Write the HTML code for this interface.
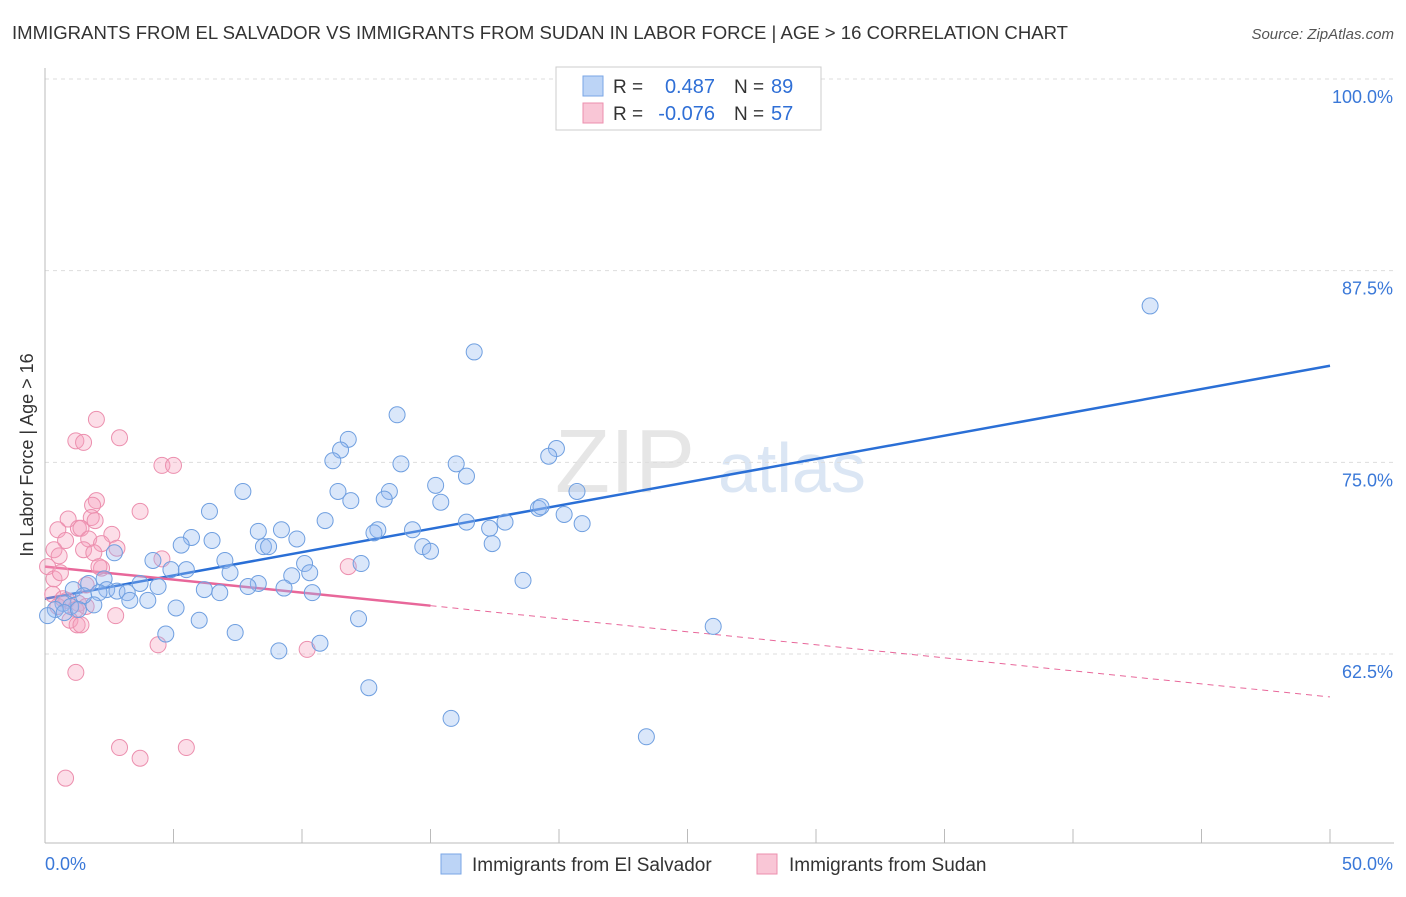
<!DOCTYPE html>
<html><head><meta charset="utf-8">
<style>
body{margin:0;background:#fff;font-family:"Liberation Sans",sans-serif;}
svg text{font-family:"Liberation Sans",sans-serif;}
</style></head>
<body>
<svg id="chart" width="1406" height="892" xmlns="http://www.w3.org/2000/svg">
<text x="12" y="39" font-size="18" fill="#333" textLength="1056" lengthAdjust="spacingAndGlyphs">IMMIGRANTS FROM EL SALVADOR VS IMMIGRANTS FROM SUDAN IN LABOR FORCE | AGE &gt; 16 CORRELATION CHART</text>
<text x="1394" y="39" font-size="15" fill="#555" text-anchor="end" font-style="italic">Source: ZipAtlas.com</text>
<text x="555" y="492" font-size="90" fill="#e6e6e6" font-family="Liberation Serif">ZIP</text>
<text x="718" y="492" font-size="70" fill="#dbe6f4">atlas</text>
<g id="grid"></g>
<g id="axes"></g>
<g id="lines"></g>
<g id="pts"></g>
<text transform="translate(33,455) rotate(-90)" font-size="18" fill="#333" text-anchor="middle">In Labor Force | Age &gt; 16</text>
<g>
<rect x="556" y="67" width="265" height="63" fill="#fff" stroke="#ccc"/>
<rect x="583" y="76" width="20" height="20" fill="#bcd4f6" stroke="#7aa6e6"/>
<rect x="583" y="103" width="20" height="20" fill="#f9c6d6" stroke="#ec8fae"/>
<text x="613" y="93" font-size="19" fill="#333">R =</text>
<text x="715" y="93" font-size="20" fill="#2f6fd6" text-anchor="end">0.487</text>
<text x="734" y="93" font-size="19" fill="#333">N =</text>
<text x="771" y="93" font-size="20" fill="#2f6fd6">89</text>
<text x="613" y="120" font-size="19" fill="#333">R =</text>
<text x="715" y="120" font-size="20" fill="#2f6fd6" text-anchor="end">-0.076</text>
<text x="734" y="120" font-size="19" fill="#333">N =</text>
<text x="771" y="120" font-size="20" fill="#2f6fd6">57</text>
</g>
<g>
<rect x="441" y="854" width="20" height="20" fill="#bcd4f6" stroke="#7aa6e6"/>
<text x="472" y="871" font-size="19" fill="#333">Immigrants from El Salvador</text></g>
<g>
<rect x="757" y="854" width="20" height="20" fill="#f9c6d6" stroke="#ec8fae"/>
<text x="789" y="871" font-size="19" fill="#333">Immigrants from Sudan</text></g>
</svg>
<script>
const yTicks=[62.5,75,87.5,100];
const yTickLabels=["62.5%","75.0%","87.5%","100.0%"];
const blueX=[43.0,16.7,13.7,11.8,11.5,11.2,13.85,16.0,16.4,19.9,19.6,15.2,13.4,13.2,11.4,11.9,15.4,7.7,6.4,10.9,16.4,17.9,17.3,19.2,19.3,20.2,20.7,20.9,12.95,12.8,14.3,14.7,15.0,17.4,8.3,9.2,9.8,8.5,8.7,5.7,5.3,6.5,2.7,4.2,7.0,10.1,12.3,4.9,5.5,7.2,9.6,10.3,2.3,1.7,3.7,4.4,8.3,7.9,6.2,6.8,9.3,10.4,2.4,2.8,3.2,1.1,2.1,3.3,4.0,1.9,0.7,1.0,0.4,5.1,18.6,6.0,12.2,4.7,7.4,10.7,9.1,26.0,12.6,15.8,23.4,0.1,1.5,0.75,1.3];
const blueY=[85.2,82.2,78.1,76.5,75.8,75.1,74.9,74.9,74.1,75.9,75.4,73.5,73.1,72.6,73.1,72.5,72.4,73.1,71.8,71.2,71.1,71.1,70.7,72.0,72.1,71.6,73.1,71.0,70.6,70.4,70.6,69.5,69.2,69.7,70.5,70.6,70.0,69.5,69.5,70.1,69.6,69.9,69.1,68.6,68.6,68.4,68.4,68.0,68.0,67.8,67.6,67.8,67.4,67.1,67.1,66.9,67.1,66.9,66.7,66.5,66.8,66.5,66.7,66.6,66.5,66.7,66.5,66.0,66.0,65.7,65.8,65.6,65.4,65.5,67.3,64.7,64.8,63.8,63.9,63.2,62.7,64.3,60.3,58.3,57.1,65.0,66.3,65.2,65.4];
const pinkX=[2.0,2.9,1.2,1.5,4.55,5.0,2.0,1.85,1.8,3.7,0.9,0.5,1.3,1.4,2.6,1.7,0.8,0.35,2.8,2.2,1.5,1.9,0.55,0.1,2.2,2.1,11.8,0.35,4.55,1.6,0.3,0.85,1.3,0.5,1.2,1.6,0.97,1.25,1.4,2.75,4.4,10.2,1.2,2.9,3.7,5.5,0.8,0.6,1.95,0.7];
const pinkY=[77.8,76.6,76.4,76.3,74.8,74.8,72.5,72.2,71.4,71.8,71.3,70.6,70.7,70.7,70.3,70.0,69.9,69.3,69.4,69.7,69.3,69.1,68.9,68.2,68.1,68.2,68.2,67.4,68.7,67.0,66.4,66.0,65.8,65.6,65.4,65.6,64.7,64.4,64.4,65.0,63.1,62.8,61.3,56.4,55.7,56.4,54.4,67.8,71.2,66.1];
const blueTrend=[66.1,81.3];
const pinkTrend=[68.2,59.7];
const pinkSolidEnd=15;
const NS="http://www.w3.org/2000/svg";
const X=v=>45+v*25.7, Y=v=>79+(100-v)*15.333;
function mk(t,a,p){const e=document.createElementNS(NS,t);for(const k in a)e.setAttribute(k,a[k]);document.getElementById(p).appendChild(e);return e;}
yTicks.forEach((t,i)=>{
 const l=mk('line',{x1:45,x2:1394,y1:Y(t),y2:Y(t),stroke:'#ddd','stroke-dasharray':'4,4'},'grid');
 
 
 const tx=mk('text',{x:1393,y:Y(t)+24,'font-size':18,fill:'#3a78d8','text-anchor':'end'},'grid');
 tx.textContent=yTickLabels[i];
 
 
});
mk('line',{x1:45,x2:45,y1:68,y2:843,stroke:'#bbb'},'axes');
mk('line',{x1:45,x2:1394,y1:843,y2:843,stroke:'#bbb'},'axes');
for(let i=0;i<=10;i++){const t=mk('line',{x1:X(i*5),x2:X(i*5),y1:829,y2:843,stroke:'#bbb'},'axes');
 
 }
const xl0=mk('text',{x:45,y:870,'font-size':18,fill:'#3a78d8'},'axes');xl0.textContent='0.0%';


const xl1=mk('text',{x:1393,y:870,'font-size':18,fill:'#3a78d8','text-anchor':'end'},'axes');xl1.textContent='50.0%';


pinkX.forEach((x,i)=>{const c=mk('circle',{cx:X(x),cy:Y(pinkY[i]),r:8,fill:'rgba(245,160,190,0.35)',stroke:'#ec8fae','stroke-width':1},'pts');
 
 });
blueX.forEach((x,i)=>{const c=mk('circle',{cx:X(x),cy:Y(blueY[i]),r:8,fill:'rgba(150,185,240,0.35)',stroke:'#6f9fe0','stroke-width':1},'pts');
 
 });
const bl=mk('line',{x1:X(0),y1:Y(blueTrend[0]),x2:X(50),y2:Y(blueTrend[1]),stroke:'#2a6fd6','stroke-width':2.5},'lines');


const pm=pinkTrend[0]+(pinkTrend[1]-pinkTrend[0])*pinkSolidEnd/50;
const pl=mk('line',{x1:X(0),y1:Y(pinkTrend[0]),x2:X(pinkSolidEnd),y2:Y(pm),stroke:'#e8679a','stroke-width':2.5},'lines');


const pd=mk('line',{x1:X(pinkSolidEnd),y1:Y(pm),x2:X(50),y2:Y(pinkTrend[1]),stroke:'#e8679a','stroke-width':1,'stroke-dasharray':'6,5'},'lines');


const topGrid=mk('line',{x1:45,x2:1394,y1:79,y2:79,stroke:'#ddd','stroke-dasharray':'4,4'},'grid');


</script>
</body></html>
